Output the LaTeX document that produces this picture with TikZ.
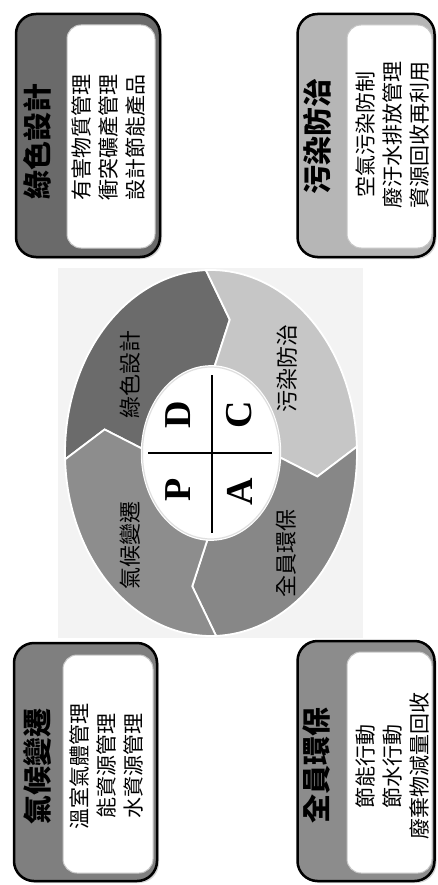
\documentclass[tikz,border=0pt]{standalone}
\usepackage{fontspec}
\newfontfamily\cjk{Noto Sans CJK TC}
\newfontfamily\serifb{Liberation Serif}
\usetikzlibrary{shadows}
\definecolor{boxA}{HTML}{6A6A6A}
\definecolor{boxB}{HTML}{B6B6B6}
\definecolor{boxC}{HTML}{7F7F7F}
\definecolor{boxD}{HTML}{8C8C8C}
\definecolor{segA}{HTML}{6B6B6B}
\definecolor{segB}{HTML}{C6C6C6}
\definecolor{segC}{HTML}{878787}
\definecolor{segD}{HTML}{8D8D8D}
\definecolor{bgpanel}{HTML}{F3F3F3}
\tikzset{
  outerbox/.style={draw=black, line width=2.5pt, rounded corners=20pt, inner sep=0pt,
    drop shadow={opacity=0.35, shadow xshift=2pt, shadow yshift=-2pt}},
  innerbox/.style={fill=white, draw=gray!45, line width=1pt, rounded corners=14pt, inner sep=0pt},
  titletext/.style={font=\cjk\bfseries\fontsize{29}{32}\selectfont, rotate=90, inner sep=0pt},
  bodytext/.style={font=\cjk\fontsize{21}{27}\selectfont, rotate=90, align=center, inner sep=0pt},
  seglabel/.style={font=\cjk\fontsize{22}{24}\selectfont, rotate=90, inner sep=0pt},
  letter/.style={font=\serifb\bfseries\fontsize{38}{40}\selectfont, rotate=90, inner sep=0pt},
  segment/.style={draw=white, line width=1.8pt, line join=miter}
}
\begin{document}
\begin{tikzpicture}[x=1pt,y=-1pt]
\useasboundingbox (0,0) rectangle (437,885);
\fill[white] (0,0) rectangle (437,885);

% ---------- boxes ----------
\node[outerbox, fill=boxA, minimum width=144pt, minimum height=243pt] (b1) at (88,135.5) {};
\node[innerbox, minimum width=88pt, minimum height=223pt] (i1) at (111,136.5) {};
\node[titletext] (t1) at (37,142) {綠色設計};
\node[bodytext] (l1) at (109,138) {有害物質管理\\衝突礦產管理\\設計節能產品};

\node[outerbox, fill=boxB, minimum width=137pt, minimum height=243pt] (b3) at (366,135.5) {};
\node[innerbox, minimum width=85pt, minimum height=223pt] (i3) at (389.5,136.5) {};
\node[titletext] (t3) at (317,137) {污染防治};
\node[bodytext] (l3) at (393,135) {空氣污染防制\\廢汙水排放管理\\資源回收再利用};

\node[outerbox, fill=boxC, minimum width=143pt, minimum height=238pt] (b2) at (85.5,762) {};
\node[innerbox, minimum width=90pt, minimum height=218pt] (i2) at (108,764) {};
\node[titletext] (t2) at (37,766) {氣候變遷};
\node[bodytext] (l2) at (106,766) {溫室氣體管理\\能資源管理\\水資源管理};

\node[outerbox, fill=boxD, minimum width=137pt, minimum height=240pt] (b4) at (366,761) {};
\node[innerbox, minimum width=85pt, minimum height=221pt] (i4) at (389.5,762.5) {};
\node[titletext] (t4) at (317,765) {全員環保};
\node[bodytext] (l4) at (392,766) {節能行動\\節水行動\\廢棄物減量回收};

% ---------- centre panel ----------
\fill[bgpanel] (58,268) rectangle (363,638);

\begin{scope}[shift={(211,453)}, xscale=146, yscale=-183]
  \def\seg#1#2#3{%
    \filldraw[segment, fill=#3]
      plot[domain=#2+2:#1+2, samples=50] (\x:1)
      -- (#1-10:0.74) -- (#1-3:0.475)
      -- plot[domain=#1-3:#2-3, samples=50] (\x:0.475)
      -- (#2-10:0.74) -- cycle;}
  \seg{90}{180}{segA}
  \seg{0}{90}{segB}
  \seg{-90}{0}{segC}
  \seg{180}{270}{segD}
  \filldraw[fill=white, draw=gray!25, line width=1.2pt]
    plot[domain=0:360, samples=90] (\x:0.47) -- cycle;
\end{scope}

% cross
\coordinate (hl) at (148,453);
\coordinate (hr) at (272,453);
\coordinate (vt) at (212,375);
\coordinate (vb) at (212,533);
\draw[line width=1.4pt] (hl) -- (hr);
\draw[line width=1.4pt] (vt) -- (vb);

\node[letter] (P) at (178,490) {P};
\node[letter] (D) at (178,415) {D};
\node[letter] (A) at (240,492) {A};
\node[letter] (C) at (239,415) {C};

\node[seglabel] (s1) at (130,374) {綠色設計};
\node[seglabel] (s2) at (287,368) {污染防治};
\node[seglabel] (s3) at (130,545) {氣候變遷};
\node[seglabel] (s4) at (286,553) {全員環保};
\end{tikzpicture}
\end{document}
